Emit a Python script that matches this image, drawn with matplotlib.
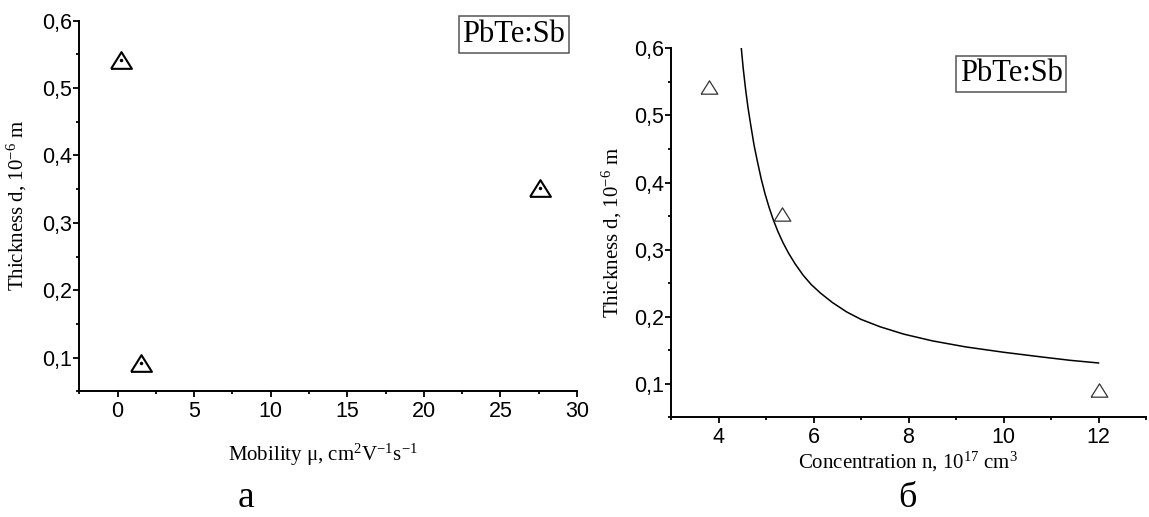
import matplotlib
matplotlib.use("Agg")
import matplotlib.pyplot as plt
from matplotlib.ticker import FixedLocator, FuncFormatter

# data
mobility = [0.2, 1.55, 27.6]
thickness_a = [0.542, 0.092, 0.352]

concentration = [3.8, 5.34, 12.0]
thickness_b = [0.543, 0.353, 0.091]

# curve in panel b
curve_n = [4.48, 4.52, 4.57, 4.62, 4.68, 4.75, 4.82, 4.9, 4.98, 5.06, 5.15,
           5.25, 5.36, 5.48, 5.62, 5.78, 5.95, 6.15, 6.4, 6.7, 7.0, 7.4,
           7.9, 8.5, 9.2, 10.0, 10.8, 11.4, 12.0]
curve_d = [0.600, 0.570, 0.539, 0.512, 0.485, 0.455, 0.431, 0.405, 0.383,
           0.364, 0.345, 0.327, 0.310, 0.294, 0.278, 0.262, 0.248, 0.235,
           0.221, 0.207, 0.196, 0.185, 0.174, 0.164, 0.155, 0.147, 0.140,
           0.135, 0.131]

y_ticks = [0.1, 0.2, 0.3, 0.4, 0.5, 0.6]
y_minor = [0.05, 0.15, 0.25, 0.35, 0.45, 0.55]
xa_ticks = [0, 5, 10, 15, 20, 25, 30]
xa_minor = [-2.5, 2.5, 7.5, 12.5, 17.5, 22.5, 27.5]
xb_ticks = [4, 6, 8, 10, 12]
xb_minor = [3, 5, 7, 9, 11, 13]

sample = "PbTe:Sb"

plt.rcParams['font.family'] = ['Liberation Sans', 'DejaVu Sans']
plt.rcParams['mathtext.fontset'] = 'custom'
plt.rcParams['mathtext.rm'] = 'Liberation Serif'
plt.rcParams['mathtext.it'] = 'Liberation Serif:italic'
plt.rcParams['mathtext.bf'] = 'Liberation Serif:bold'

SERIF = ['Liberation Serif', 'DejaVu Serif']
comma = FuncFormatter(lambda v, p: f"{v:g}".replace('.', ','))

# Origin-like triangle, a bit flatter than matplotlib's
tri = [(-1, -0.8), (1, -0.8), (0, 0.8), (-1, -0.8)]

fig = plt.figure(figsize=(11.49, 5.17), dpi=100)
ax1 = fig.add_axes([0.0690, 0.2431, 0.4332, 0.7168])
ax2 = fig.add_axes([0.5840, 0.1928, 0.4134, 0.7137])


def style_axes(ax, xt, xm):
    for s in ['top', 'right']:
        ax.spines[s].set_visible(False)
    for s in ['left', 'bottom']:
        ax.spines[s].set_linewidth(1.4)
    ax.xaxis.set_major_locator(FixedLocator(xt))
    ax.xaxis.set_minor_locator(FixedLocator(xm))
    ax.yaxis.set_major_locator(FixedLocator(y_ticks))
    ax.yaxis.set_minor_locator(FixedLocator(y_minor))
    ax.yaxis.set_major_formatter(comma)
    ax.tick_params(which='major', direction='out', length=4, width=1.3,
                   labelsize=15.5)
    ax.tick_params(which='minor', direction='out', length=2.2, width=1.3)
    ax.tick_params(axis='x', pad=3.0)
    ax.tick_params(axis='y', pad=1.2)
    ax.set_ylim(0.05, 0.6)


# panel a
ax1.plot(mobility, thickness_a, linestyle='none', marker=tri, ms=15,
         mfc='none', mec='black', mew=1.5, clip_on=False)
ax1.plot(mobility, thickness_a, linestyle='none', marker='o', ms=1.5,
         color='black', clip_on=False)
style_axes(ax1, xa_ticks, xa_minor)
ax1.set_xlim(-2.5, 30)
ax1.set_xlabel("Mobility μ, cm$^2$V$^{-1}$s$^{-1}$", family=SERIF, fontsize=15)
ax1.set_ylabel("Thickness d, 10$^{-6}$ m", family=SERIF, fontsize=15)
ax1.xaxis.set_label_coords(0.49, -0.135)
ax1.yaxis.set_label_coords(-0.102, 0.5)
ax1.text(0.873, 0.963, sample, transform=ax1.transAxes, ha='center',
         va='center', family=SERIF, fontsize=22,
         bbox=dict(boxstyle='square,pad=0.12', fc='white', ec='#555555', lw=1.1))

# panel b
ax2.plot(curve_n, curve_d, color='black', lw=1.1)
ax2.plot(concentration, thickness_b, linestyle='none', marker=tri, ms=12,
         mfc='none', mec='#333333', mew=0.9, clip_on=False)
style_axes(ax2, xb_ticks, xb_minor)
ax2.set_xlim(3, 13)
ax2.set_xlabel("Concentration n, 10$^{17}$ cm$^3$", family=SERIF, fontsize=15)
ax2.set_ylabel("Thickness d, 10$^{-6}$ m", family=SERIF, fontsize=15)
ax2.xaxis.set_label_coords(0.5, -0.088)
ax2.yaxis.set_label_coords(-0.098, 0.5)
ax2.text(0.716, 0.931, sample, transform=ax2.transAxes, ha='center',
         va='center', family=SERIF, fontsize=22,
         bbox=dict(boxstyle='square,pad=0.12', fc='white', ec='#555555', lw=1.1))

fig.text(0.214, 0.02, "а", ha='center', va='baseline', family=SERIF, fontsize=27)
fig.text(0.790, 0.02, "б", ha='center', va='baseline', family=SERIF, fontsize=26)

fig.savefig("out.png", dpi=100)
